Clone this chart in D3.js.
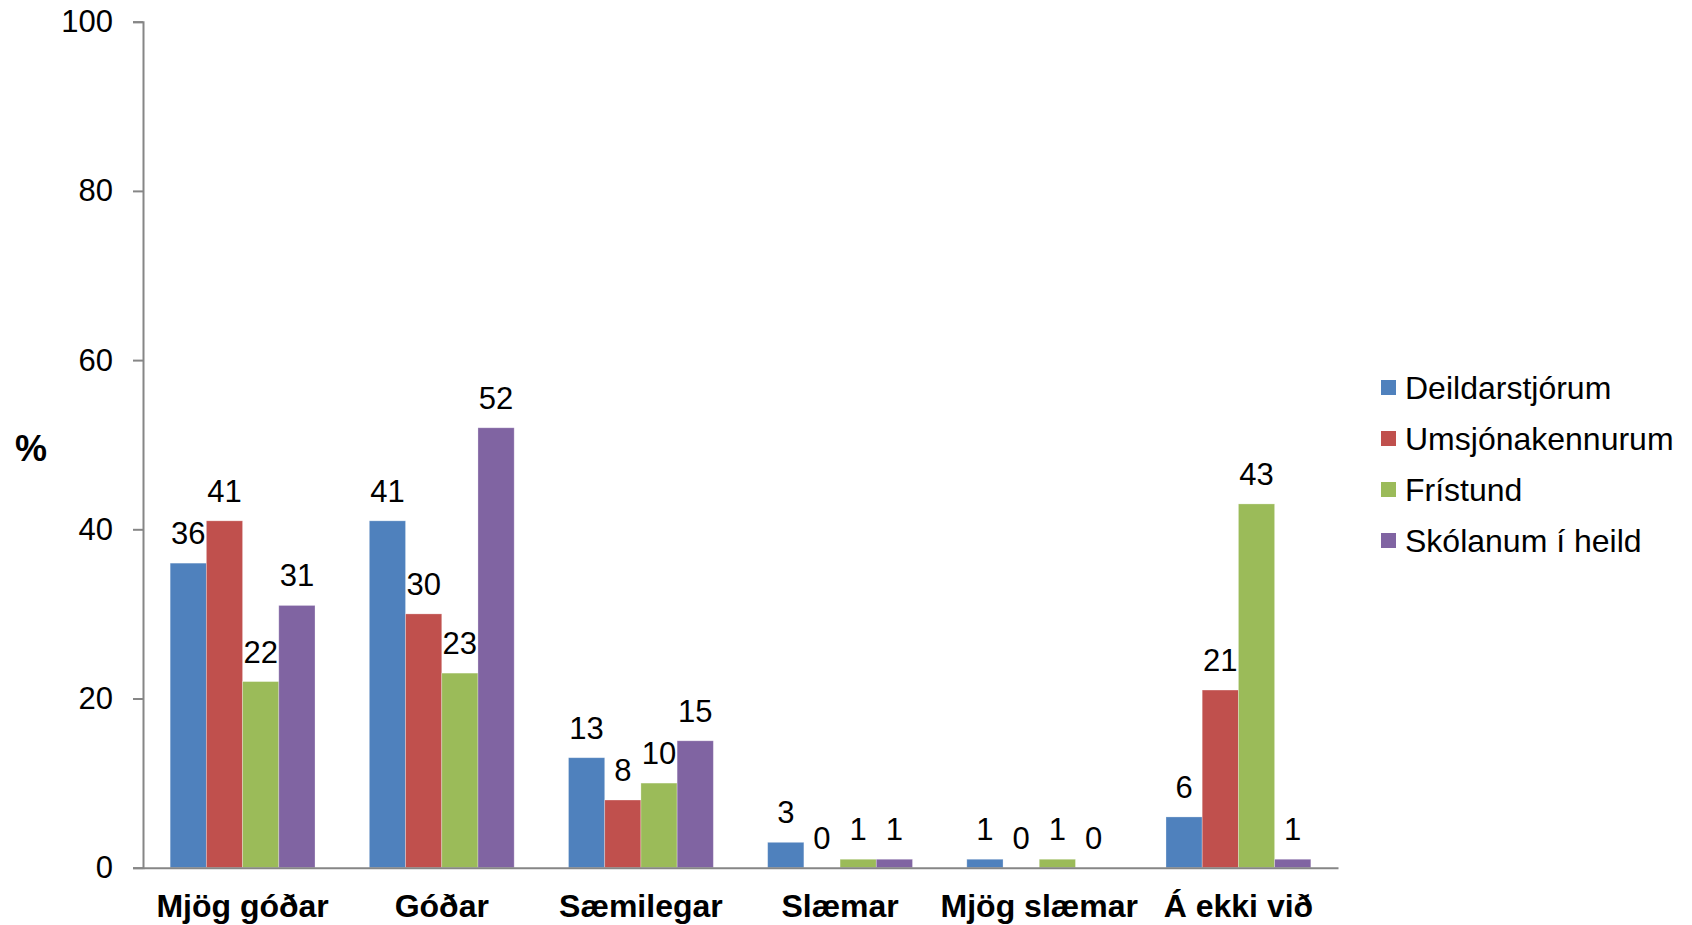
<!DOCTYPE html>
<html>
<head>
<meta charset="utf-8">
<script src="https://cdn.jsdelivr.net/npm/d3@7"></script>
<style>
  body { margin: 0; background: #fff; }
  text { font-family: Arial, "Liberation Sans", sans-serif; fill: #000; }
</style>
</head>
<body>
<svg width="1692" height="925"></svg>
<script>
// data
var categories = ["Mjög góðar", "Góðar", "Sæmilegar", "Slæmar", "Mjög slæmar", "Á ekki við"];
var seriesNames = ["Deildarstjórum", "Umsjónakennurum", "Frístund", "Skólanum í heild"];
var deildarstjorum = [36, 41, 13, 3, 1, 6];
var umsjonakennurum = [41, 30, 8, 0, 0, 21];
var fristund = [22, 23, 10, 1, 1, 43];
var skolanum = [31, 52, 15, 1, 0, 1];
var yTicks = [0, 20, 40, 60, 80, 100];
var colors = ["#4F81BD", "#C0504D", "#9BBB59", "#8064A2"];

var seriesValues = [deildarstjorum, umsjonakennurum, fristund, skolanum];

var svg = d3.select("svg");
var plotLeft = 143, plotRight = 1338, plotTop = 21.7, plotBottom = 867.7;

var x = d3.scaleBand().domain(categories).range([plotLeft, plotRight]);
var xInner = d3.scaleBand().domain(seriesNames).range([0, x.bandwidth()])
	.paddingInner(0).paddingOuter(0.75);
var y = d3.scaleLinear().domain([0, 100]).range([plotBottom, plotTop]);
var color = d3.scaleOrdinal().domain(seriesNames).range(colors);

// flatten to one row per bar
var rows = [];
categories.forEach(function(c, i) {
	seriesNames.forEach(function(s, j) {
		rows.push({cat: c, series: s, value: seriesValues[j][i]});
	});
});

// bars
svg.append("g").selectAll("rect")
	.data(rows)
	.enter().append("rect")
		.attr("x", function(d) { return x(d.cat) + xInner(d.series); })
		.attr("y", function(d) { return y(d.value); })
		.attr("width", xInner.bandwidth())
		.attr("height", function(d) { return y(0) - y(d.value); })
		.attr("fill", function(d) { return color(d.series); })
		.attr("stroke", "rgba(255,255,255,0.35)")
		.attr("stroke-width", 0.8);

// value labels
svg.append("g").selectAll("text")
	.data(rows)
	.enter().append("text")
		.attr("x", function(d) { return x(d.cat) + xInner(d.series) + xInner.bandwidth() / 2; })
		.attr("y", function(d) { return y(d.value) - 19; })
		.attr("text-anchor", "middle")
		.style("font-size", "31px")
		.text(function(d) { return d.value; });

// y axis
var yAxis = d3.axisLeft(y).tickValues(yTicks).tickSize(10).tickPadding(20);
var gy = svg.append("g").attr("transform", "translate(" + plotLeft + ",0)").call(yAxis);
gy.select(".domain").attr("stroke", "#868686").attr("stroke-width", 2);
gy.selectAll(".tick line").attr("stroke", "#868686").attr("stroke-width", 2);
gy.selectAll(".tick text")
	.style("font-size", "31px")
	.style("font-family", "Arial, 'Liberation Sans', sans-serif")
	.attr("fill", "#000");

// x axis line
var xAxis = d3.axisBottom(x).tickSize(0).tickPadding(0);
var gx = svg.append("g").attr("transform", "translate(0," + plotBottom + ")").call(xAxis);
gx.select(".domain").attr("stroke", "#868686").attr("stroke-width", 2);
gx.selectAll(".tick text")
	.attr("y", 49)
	.attr("dy", 0)
	.style("font-size", "32px")
	.style("font-weight", "bold")
	.style("font-family", "Arial, 'Liberation Sans', sans-serif")
	.attr("fill", "#000");

// y axis title
svg.append("text")
	.attr("x", 31)
	.attr("y", 461)
	.attr("text-anchor", "middle")
	.style("font-size", "36px")
	.style("font-weight", "bold")
	.text("%");

// legend
var legend = svg.append("g").selectAll("g")
	.data(seriesNames)
	.enter().append("g")
		.attr("transform", function(d, i) { return "translate(1381," + (387.5 + i * 51) + ")"; });
legend.append("rect")
	.attr("x", 0).attr("y", -7.5)
	.attr("width", 15).attr("height", 15)
	.attr("fill", function(d) { return color(d); });
legend.append("text")
	.attr("x", 24)
	.attr("y", 11)
	.style("font-size", "32px")
	.text(function(d) { return d; });
</script>
</body>
</html>
